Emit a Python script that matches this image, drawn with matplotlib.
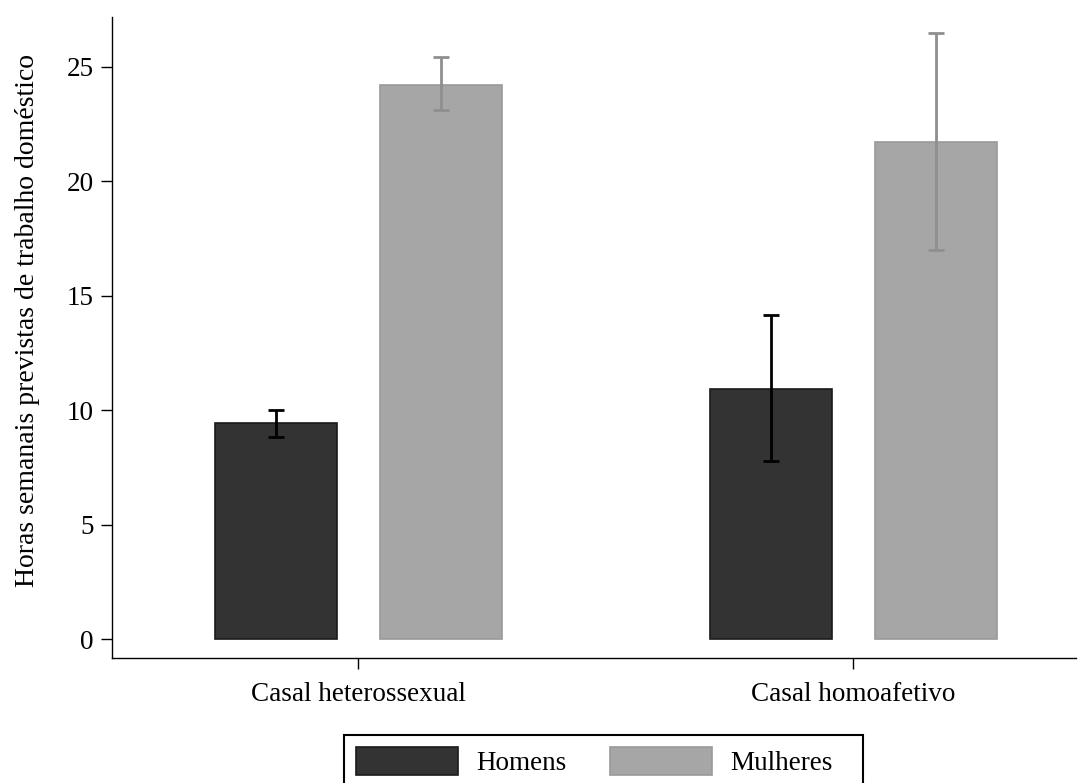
import numpy as np
import matplotlib
matplotlib.use('Agg')
import matplotlib.pyplot as plt
from matplotlib.patches import Rectangle

# Horas semanais previstas por tipo de casal e sexo
grupos = ['Casal heterossexual', 'Casal homoafetivo']
series = ['Homens', 'Mulheres']

homens = [9.42, 10.93]
homens_lo = [8.84, 7.80]
homens_hi = [10.02, 14.16]

mulheres = [24.22, 21.72]
mulheres_lo = [23.12, 17.02]
mulheres_hi = [25.44, 26.50]

cores = ['#333333', '#a6a6a6']
bordas = ['#1a1a1a', '#999999']
cores_erro = ['#000000', '#8f8f8f']

plt.rcParams['font.family'] = ['Liberation Serif', 'DejaVu Serif']
fs = 19.5

fig = plt.figure(figsize=(10.89, 7.83), dpi=100)
ax = fig.add_axes([0.1028, 0.1596, 0.8852, 0.8187])

x = np.arange(len(grupos))
largura = 0.2465
desloc = 0.1667

dados = [(homens, homens_lo, homens_hi), (mulheres, mulheres_lo, mulheres_hi)]
for i, (vals, lo, hi) in enumerate(dados):
    pos = x + (i * 2 - 1) * desloc
    ax.bar(pos, vals, width=largura, color=cores[i], edgecolor=bordas[i],
           linewidth=1.2, label=series[i], zorder=2)
    vals = np.array(vals)
    yerr = [vals - np.array(lo), np.array(hi) - vals]
    ax.errorbar(pos, vals, yerr=yerr, fmt='none', ecolor=cores_erro[i],
                elinewidth=2.0, capsize=5.5, capthick=2.0, zorder=3)

ax.set_xlim(-0.498, 1.4495)
ax.set_ylim(-0.83, 27.18)
ax.set_yticks([0, 5, 10, 15, 20, 25])
ax.set_xticks(x)
ax.set_xticklabels(grupos)

for s in ['top', 'right']:
    ax.spines[s].set_visible(False)
for s in ['left', 'bottom']:
    ax.spines[s].set_linewidth(1.0)
    ax.spines[s].set_color('#000000')

ax.tick_params(axis='both', labelsize=fs, length=8, width=1.0, colors='#000000')
ax.tick_params(axis='x', pad=9)
ax.tick_params(axis='y', pad=5)

ax.set_ylabel('Horas semanais previstas de trabalho doméstico', fontsize=20)
ax.yaxis.set_label_coords(-0.0747, 0.527)

# Legenda sem moldura; a caixa é desenhada à parte
W, H = 1089, 783
leg = fig.legend(loc='upper left', bbox_to_anchor=(344 / W, 1 - 735 / H), ncol=2,
                 fontsize=fs, frameon=False, borderaxespad=0,
                 handlelength=3.77, handleheight=1.2, handletextpad=0.66,
                 columnspacing=1.62, borderpad=0.45)
caixa = Rectangle((344 / W, -0.05), (863 - 344) / W, 0.05 + 1 - 735 / H,
                  transform=fig.transFigure, fill=False, edgecolor='#000000',
                  linewidth=1.5)
fig.patches.append(caixa)

plt.savefig('out.png', dpi=100)
